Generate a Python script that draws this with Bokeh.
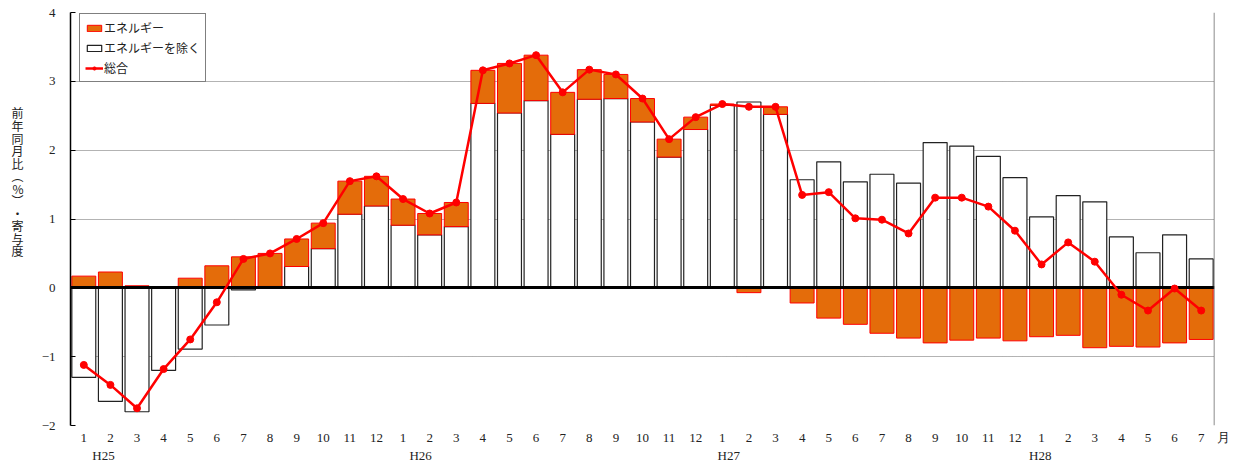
import numpy as np
from bokeh.plotting import figure
from bokeh.models import (FixedTicker, Span, Legend, LegendItem, ColumnDataSource, LinearAxis)
from bokeh.embed import file_html
from bokeh.resources import INLINE

months = [1,2,3,4,5,6,7,8,9,10,11,12, 1,2,3,4,5,6,7,8,9,10,11,12,
          1,2,3,4,5,6,7,8,9,10,11,12, 1,2,3,4,5,6,7]
years = ["H25", "H26", "H27", "H28"]
month_unit = "月"
y_title = "前年同月比（%）・寄与度"

energy = [0.17, 0.23, 0.03, 0.01, 0.14, 0.32, 0.45, 0.48, 0.40, 0.37, 0.48, 0.43,
          0.38, 0.31, 0.35, 0.48, 0.72, 0.66, 0.61, 0.43, 0.35, 0.34, 0.26, 0.18,
          0.02, -0.07, 0.11, -0.22, -0.44, -0.53, -0.66, -0.73, -0.80, -0.76, -0.73, -0.77,
          -0.71, -0.69, -0.87, -0.85, -0.86, -0.80, -0.75]
ex_energy = [-1.30, -1.65, -1.80, -1.20, -0.89, -0.54, -0.03, 0.02, 0.31, 0.57, 1.07, 1.19,
             0.91, 0.77, 0.89, 2.68, 2.54, 2.72, 2.23, 2.74, 2.75, 2.41, 1.90, 2.30,
             2.65, 2.70, 2.52, 1.57, 1.83, 1.54, 1.65, 1.52, 2.11, 2.06, 1.91, 1.60,
             1.03, 1.34, 1.25, 0.74, 0.51, 0.77, 0.42]
total = [-1.12, -1.41, -1.75, -1.18, -0.75, -0.21, 0.42, 0.50, 0.71, 0.94, 1.55, 1.62,
         1.29, 1.08, 1.24, 3.16, 3.26, 3.38, 2.84, 3.17, 3.10, 2.75, 2.16, 2.48,
         2.67, 2.63, 2.63, 1.35, 1.39, 1.01, 0.99, 0.79, 1.31, 1.31, 1.18, 0.83,
         0.34, 0.66, 0.38, -0.10, -0.33, -0.01, -0.33]
y_ticks = [-2, -1, 0, 1, 2, 3, 4]

x = np.arange(len(months))
en = np.array(energy)
ex = np.array(ex_energy)
# diverging stack: energy stacks on ex-energy when same sign, otherwise from zero
en_bottom = np.where(en >= 0, np.maximum(ex, 0), np.minimum(ex, 0))
en_top = en_bottom + en

src = ColumnDataSource(dict(x=x, ex=ex, en_b=en_bottom, en_t=en_top, total=total))

ORANGE = "#E46C0A"
JP = "'Noto Sans CJK JP'"
NUM = "'Liberation Serif'"
TXT = "#222222"

p = figure(width=1236, height=465, x_range=(-0.5, len(months) - 0.5), y_range=(-2, 4),
           output_backend="svg", toolbar_location=None,
           min_border_left=70, min_border_right=22, min_border_top=12, min_border_bottom=39)
p.outline_line_color = None
p.background_fill_color = "white"

# grid
p.xgrid.grid_line_color = None
p.ygrid.ticker = FixedTicker(ticks=y_ticks)
p.ygrid.grid_line_color = "#666666"
p.ygrid.grid_line_dash = "1 1"
p.ygrid.grid_line_width = 1

# y axis
p.yaxis.ticker = FixedTicker(ticks=y_ticks)
p.yaxis.major_label_overrides = {-2: "\u22122", -1: "\u22121"}
p.yaxis.major_tick_in = 5
p.yaxis.major_tick_out = 0
p.yaxis.minor_tick_line_color = None
p.yaxis.axis_line_color = "black"
p.yaxis.axis_line_width = 1.5
p.yaxis.major_tick_line_color = "black"
p.yaxis.major_label_standoff = 15
p.yaxis.major_label_text_font = NUM
p.yaxis.major_label_text_font_size = "13px"
p.yaxis.major_label_text_color = TXT

# y title: upright stacked characters via an extra tick-label-only axis
vert = {"（": "\ufe35", "）": "\ufe36"}
chars = [vert.get(c, c) for c in y_title]
char_top, char_step = 2.54, 0.182
char_pos = [round(char_top - i * char_step, 3) for i in range(len(chars))]
title_axis = LinearAxis(ticker=FixedTicker(ticks=char_pos),
                        major_label_overrides={pos: c for pos, c in zip(char_pos, chars)})
title_axis.axis_line_color = None
title_axis.major_tick_line_color = None
title_axis.minor_tick_line_color = None
title_axis.major_label_standoff = 9
title_axis.major_label_text_font = JP
title_axis.major_label_text_font_size = "12px"
title_axis.major_label_text_color = TXT
p.add_layout(title_axis, "left")

# x axis: month numbers, with the unit after the last month
IS = "\u3000"
labels = {int(i): str(m) for i, m in zip(x, months)}
labels[42] = IS * 2 + str(months[42]) + IS + month_unit
p.xaxis.ticker = FixedTicker(ticks=list(x))
p.xaxis.major_label_overrides = labels
p.xaxis.axis_line_color = None
p.xaxis.major_tick_line_color = None
p.xaxis.minor_tick_line_color = None
p.xaxis.major_tick_in = 0
p.xaxis.major_tick_out = 0
p.xaxis.minor_tick_out = 0
p.xaxis.major_label_standoff = 4
p.xaxis.major_label_text_font = NUM
p.xaxis.major_label_text_font_size = "13px"
p.xaxis.major_label_text_color = TXT

# year labels on a second, label-only axis below
year_pos = [0.74, 12.66, 24.24, 35.95]
year_axis = LinearAxis(ticker=FixedTicker(ticks=year_pos),
                       major_label_overrides={pos: yname for pos, yname in zip(year_pos, years)})
year_axis.axis_line_color = None
year_axis.major_tick_line_color = None
year_axis.minor_tick_line_color = None
year_axis.major_tick_in = 0
year_axis.major_tick_out = 0
year_axis.minor_tick_out = 0
year_axis.major_label_standoff = 0
year_axis.major_label_text_font = NUM
year_axis.major_label_text_font_size = "13px"
year_axis.major_label_text_color = TXT
p.add_layout(year_axis, "below")

r_ex = p.vbar(x="x", bottom=0, top="ex", width=0.9, source=src,
              fill_color="white", line_color="#222222", line_width=1.2)
r_en = p.vbar(x="x", bottom="en_b", top="en_t", width=0.9, source=src,
              fill_color=ORANGE, line_color="#FF0000", line_width=1)
p.hspan(y=[0], line_color="black", line_width=3)
r_line = p.line(x="x", y="total", source=src, line_color="#FF0000", line_width=2.5)
r_pts = p.scatter(x="x", y="total", source=src, size=7, fill_color="#FF0000", line_color="#FF0000")

p.add_layout(Span(location=len(months) - 0.5, dimension="height", line_color="#666666", line_width=1.5))

legend = Legend(items=[
    LegendItem(label="エネルギー", renderers=[r_en]),
    LegendItem(label="エネルギーを除く", renderers=[r_ex]),
    LegendItem(label="総合", renderers=[r_line, r_pts]),
], location=(9, 343))
legend.label_text_font = JP
legend.label_text_font_size = "12px"
legend.label_text_color = TXT
legend.glyph_width = 18
legend.glyph_height = 8
legend.label_height = 14
legend.label_standoff = 1
legend.spacing = 3
legend.padding = 5
legend.border_line_color = "black"
legend.border_line_width = 1
legend.background_fill_alpha = 1
p.add_layout(legend, "center")

open("out.html", "w").write(file_html(p, INLINE))
